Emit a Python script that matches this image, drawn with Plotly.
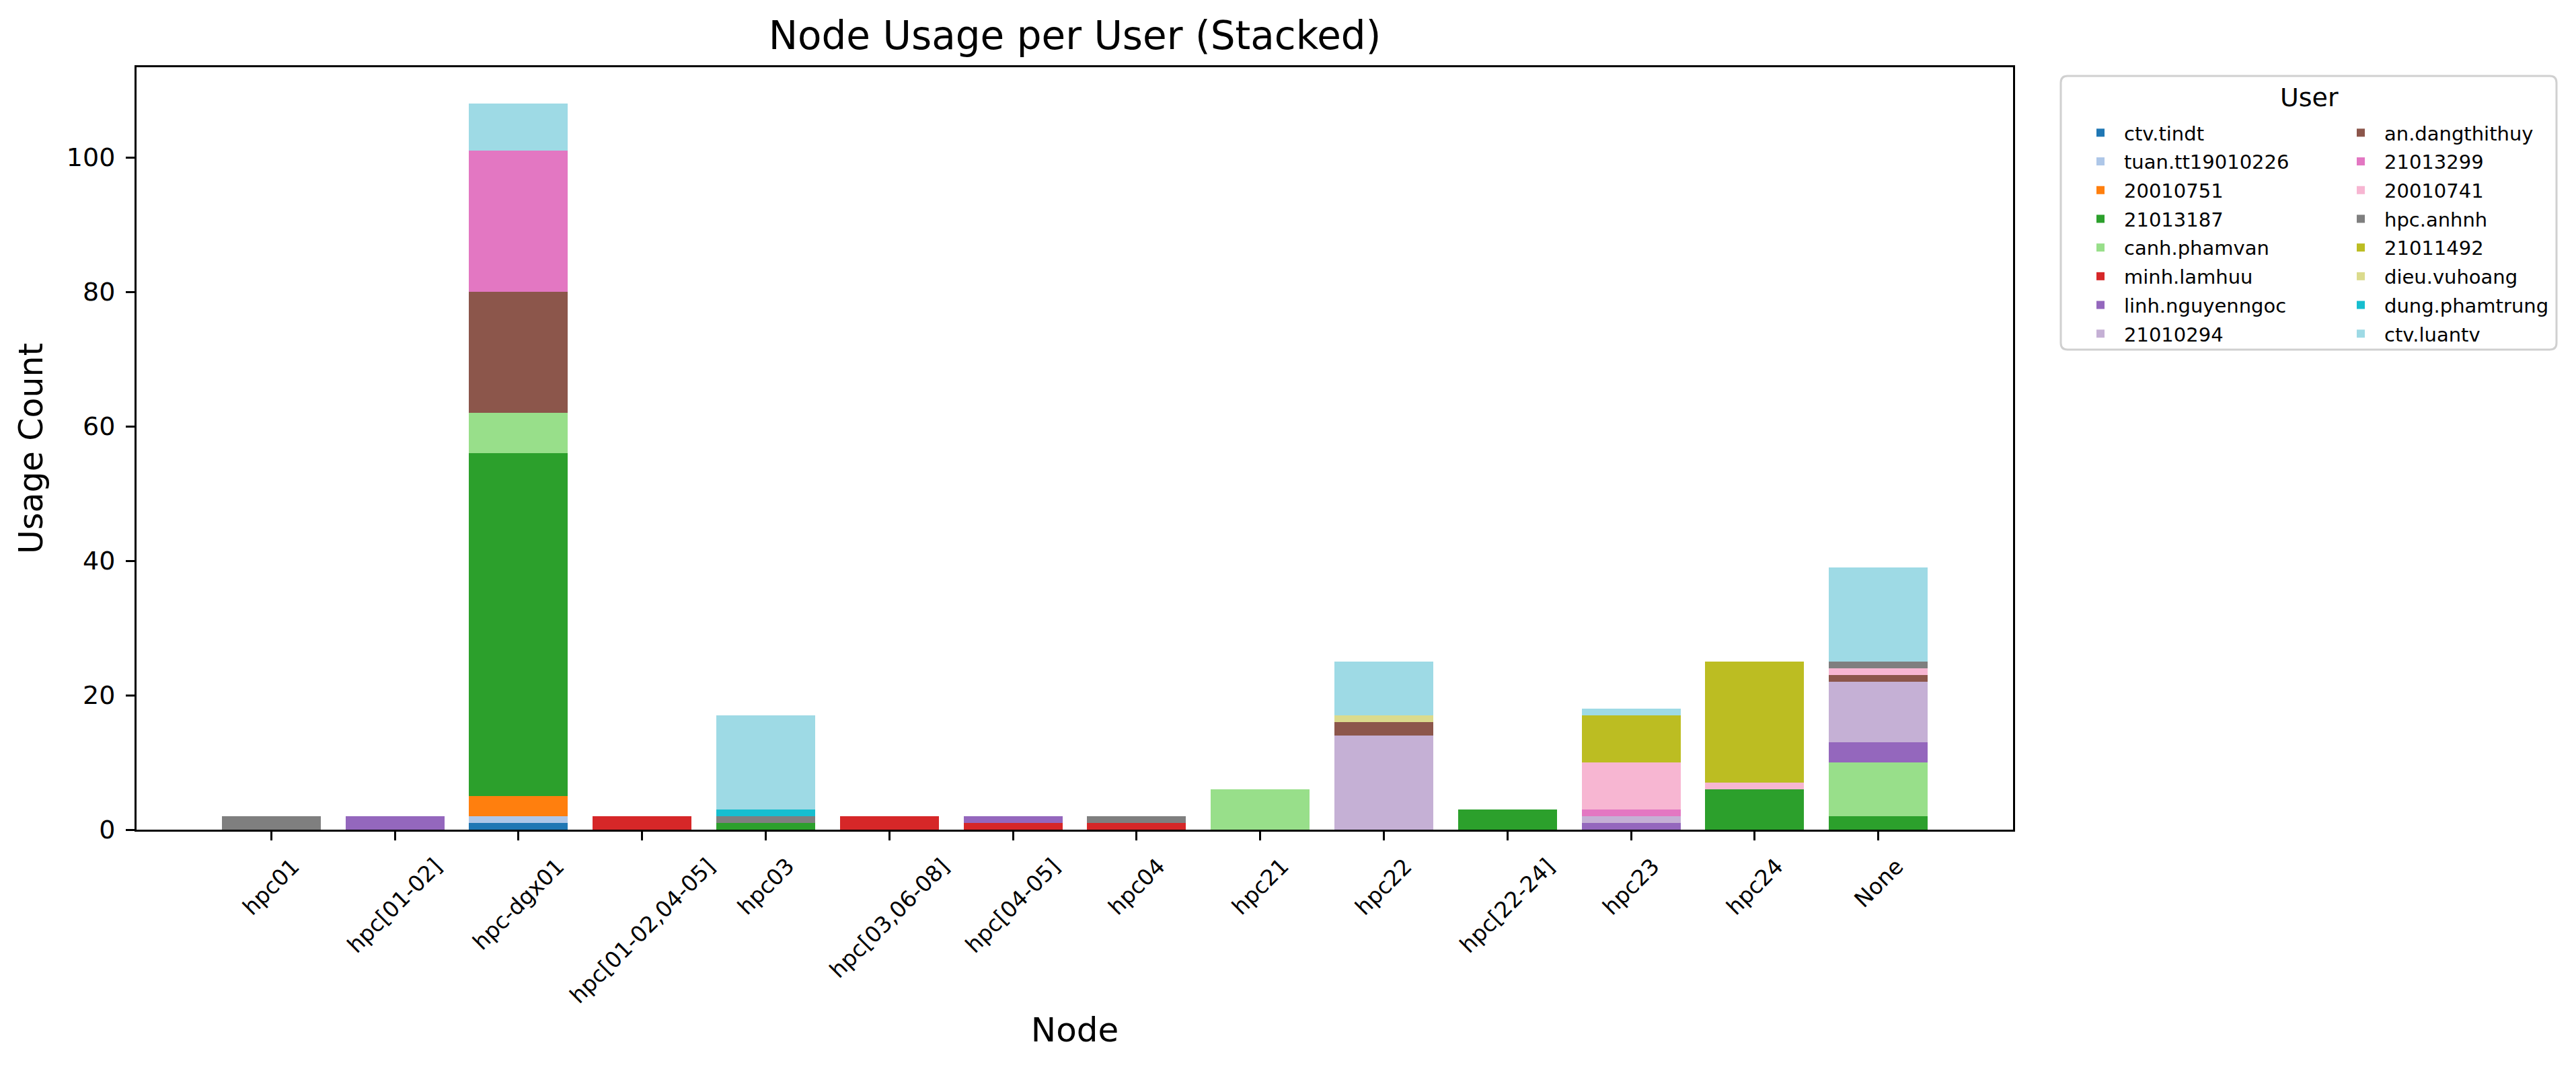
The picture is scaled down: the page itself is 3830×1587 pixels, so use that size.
import plotly.graph_objects as go

# ---------------- data ----------------
nodes = ["hpc01", "hpc[01-02]", "hpc-dgx01", "hpc[01-02,04-05]", "hpc03",
         "hpc[03,06-08]", "hpc[04-05]", "hpc04", "hpc21", "hpc22",
         "hpc[22-24]", "hpc23", "hpc24", "None"]

users = ["ctv.tindt", "tuan.tt19010226", "20010751", "21013187", "canh.phamvan",
         "minh.lamhuu", "linh.nguyenngoc", "21010294", "an.dangthithuy", "21013299",
         "20010741", "hpc.anhnh", "21011492", "dieu.vuhoang", "dung.phamtrung",
         "ctv.luantv"]

colors = ["#1f77b4", "#aec7e8", "#ff7f0e", "#2ca02c", "#98df8a",
          "#d62728", "#9467bd", "#c5b0d5", "#8c564b", "#e377c2",
          "#f7b6d2", "#7f7f7f", "#bcbd22", "#dbdb8d", "#17becf",
          "#9edae5"]

ctv_tindt       = [0, 0, 1, 0, 0, 0, 0, 0, 0, 0, 0, 0, 0, 0]
tuan_tt19010226 = [0, 0, 1, 0, 0, 0, 0, 0, 0, 0, 0, 0, 0, 0]
u20010751       = [0, 0, 3, 0, 0, 0, 0, 0, 0, 0, 0, 0, 0, 0]
u21013187       = [0, 0, 51, 0, 1, 0, 0, 0, 0, 0, 3, 0, 6, 2]
canh_phamvan    = [0, 0, 6, 0, 0, 0, 0, 0, 6, 0, 0, 0, 0, 8]
minh_lamhuu     = [0, 0, 0, 2, 0, 2, 1, 1, 0, 0, 0, 0, 0, 0]
linh_nguyenngoc = [0, 2, 0, 0, 0, 0, 1, 0, 0, 0, 0, 1, 0, 3]
u21010294       = [0, 0, 0, 0, 0, 0, 0, 0, 0, 14, 0, 1, 0, 9]
an_dangthithuy  = [0, 0, 18, 0, 0, 0, 0, 0, 0, 2, 0, 0, 0, 1]
u21013299       = [0, 0, 21, 0, 0, 0, 0, 0, 0, 0, 0, 1, 0, 0]
u20010741       = [0, 0, 0, 0, 0, 0, 0, 0, 0, 0, 0, 7, 1, 1]
hpc_anhnh       = [2, 0, 0, 0, 1, 0, 0, 1, 0, 0, 0, 0, 0, 1]
u21011492       = [0, 0, 0, 0, 0, 0, 0, 0, 0, 0, 0, 7, 18, 0]
dieu_vuhoang    = [0, 0, 0, 0, 0, 0, 0, 0, 0, 1, 0, 0, 0, 0]
dung_phamtrung  = [0, 0, 0, 0, 1, 0, 0, 0, 0, 0, 0, 0, 0, 0]
ctv_luantv      = [0, 0, 7, 0, 14, 0, 0, 0, 0, 8, 0, 1, 0, 14]

series = [ctv_tindt, tuan_tt19010226, u20010751, u21013187, canh_phamvan,
          minh_lamhuu, linh_nguyenngoc, u21010294, an_dangthithuy, u21013299,
          u20010741, hpc_anhnh, u21011492, dieu_vuhoang, dung_phamtrung,
          ctv_luantv]

y_ticks = [0, 20, 40, 60, 80, 100]

# ---------------- layout geometry (pixels) ----------------
W, H = 3830, 1587
L, R, T, B = 203, 2993, 100, 1234
PW, PH = R - L, B - T
FONT = "DejaVu Sans"


def px_x(px):
    return (px - L) / PW


def px_y(py):
    return (B - py) / PH


fig = go.Figure()
for i, (name, vals, col) in enumerate(zip(users, series, colors)):
    fig.add_trace(go.Bar(
        x=nodes, y=vals, name=name,
        marker=dict(color=col, line=dict(width=0)),
        width=0.8,
        legend="legend" if i < 8 else "legend2",
        legendgroup=name,
    ))

annotations = []
for n in nodes:
    annotations.append(dict(
        x=n, xref="x", y=px_y(1266), yref="paper",
        text=n, textangle=-45, showarrow=False,
        xanchor="center", yanchor="top",
        font=dict(family=FONT, size=33, color="black"),
    ))

# legend title
annotations.append(dict(
    x=px_x(3433), xref="paper", y=px_y(145), yref="paper",
    text="User", showarrow=False, xanchor="center", yanchor="middle",
    font=dict(family=FONT, size=38, color="black"),
))

# rounded legend frame
x0, x1 = px_x(3064), px_x(3801)
y0, y1 = px_y(520), px_y(113)
rx, ry = 10 / PW, 10 / PH
path = (f"M{x0+rx},{y1} L{x1-rx},{y1} Q{x1},{y1} {x1},{y1-ry} "
        f"L{x1},{y0+ry} Q{x1},{y0} {x1-rx},{y0} L{x0+rx},{y0} "
        f"Q{x0},{y0} {x0},{y0+ry} L{x0},{y1-ry} Q{x0},{y1} {x0+rx},{y1} Z")

legend_common = dict(
    font=dict(family=FONT, size=29, color="black"),
    bgcolor="rgba(0,0,0,0)", borderwidth=0,
    orientation="v", xanchor="left", yanchor="top",
    traceorder="grouped", tracegroupgap=2, itemwidth=60,
)

fig.update_layout(
    width=W, height=H,
    margin=dict(l=L, r=W - R, t=T, b=H - B, pad=0),
    paper_bgcolor="white", plot_bgcolor="white",
    font=dict(family=FONT, color="black"),
    barmode="stack",
    title=dict(text="Node Usage per User (Stacked)",
               x=0.5, xref="paper", xanchor="center",
               y=(H - 53) / H, yref="container", yanchor="middle",
               font=dict(family=FONT, size=58, color="black")),
    xaxis=dict(
        type="category", categoryorder="array", categoryarray=nodes,
        range=[-1.09, len(nodes) - 1 + 1.09],
        showticklabels=False,
        ticks="outside", ticklen=13, tickwidth=3, tickcolor="black",
        showline=True, linewidth=3, linecolor="black", mirror=True,
        showgrid=False, zeroline=False,
        title=dict(text="Node", font=dict(family=FONT, size=50, color="black"),
                   standoff=265),
    ),
    yaxis=dict(
        range=[0, 113.4],
        tickvals=y_ticks, ticktext=[str(v) for v in y_ticks],
        ticks="outside", ticklen=13, tickwidth=3, tickcolor="black",
        tickfont=dict(family=FONT, size=38, color="black"),
        ticklabelstandoff=8,
        showline=True, linewidth=3, linecolor="black", mirror=True,
        showgrid=False, zeroline=False,
        title=dict(text="Usage Count", font=dict(family=FONT, size=49, color="black"),
                   standoff=20),
    ),
    legend=dict(x=px_x(3088), y=px_y(172), **legend_common),
    legend2=dict(x=px_x(3475), y=px_y(172), **legend_common),
    annotations=annotations,
    shapes=[dict(type="path", path=path, xref="paper", yref="paper",
                 line=dict(color="#d0d0d0", width=3), fillcolor="rgba(0,0,0,0)",
                 layer="above")],
    showlegend=True,
)

fig.write_html("out.html", config={"displayModeBar": False},
               post_script="document.body.style.margin='0';")
